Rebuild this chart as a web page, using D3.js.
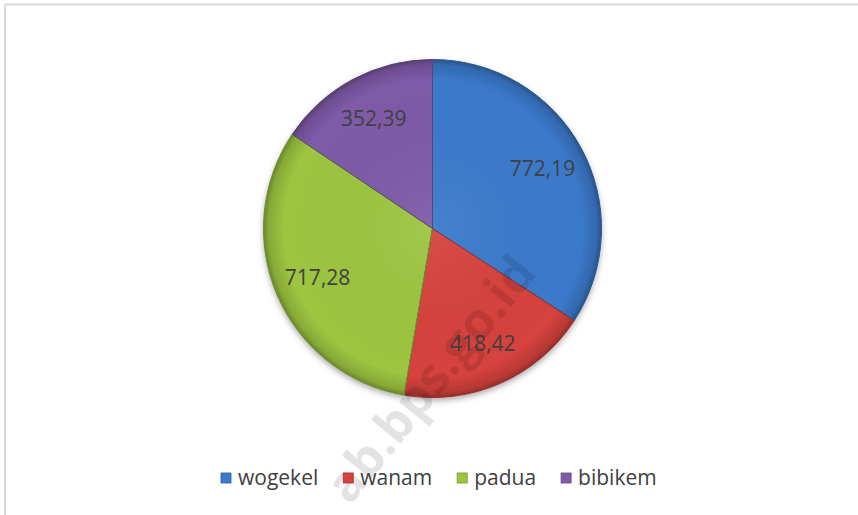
<!DOCTYPE html>
<html>
<head>
<meta charset="utf-8">
<script src="https://cdnjs.cloudflare.com/ajax/libs/d3/7.8.5/d3.min.js"></script>
<style>
  body { margin: 0; background: #fff; }
  svg { display: block; }
  text { font-family: "Open Sans", sans-serif; }
</style>
</head>
<body>
<div id="chart"></div>
<script>
// chart data
var categories = ["wogekel", "wanam", "padua", "bibikem"];
var values = [772.19, 418.42, 717.28, 352.39];
var labels = ["772,19", "418,42", "717,28", "352,39"];
var colors = ["#3b7acb", "#d6423e", "#9cc540", "#7f5aa8"];

var svgWidth = 858;
var svgHeight = 515;

var cx = 432.5, cy = 228.5, radius = 169;

var svg = d3.select("#chart")
  .append("svg")
  .attr("width", svgWidth)
  .attr("height", svgHeight);

var defs = svg.append("defs");

// soft shadow under the pie
var shadow = defs.append("filter")
  .attr("id", "shadow")
  .attr("x", "-20%").attr("y", "-20%")
  .attr("width", "140%").attr("height", "140%");
shadow.append("feDropShadow")
  .attr("dx", 0).attr("dy", 3)
  .attr("stdDeviation", 3)
  .attr("flood-color", "#000")
  .attr("flood-opacity", 0.35);

// darkening toward the rim (bevel look)
var rim = defs.append("radialGradient")
  .attr("id", "rim")
  .attr("gradientUnits", "userSpaceOnUse")
  .attr("cx", 0).attr("cy", 0).attr("r", radius);
rim.append("stop").attr("offset", "0%").attr("stop-color", "#fff").attr("stop-opacity", 0.06);
rim.append("stop").attr("offset", "88%").attr("stop-color", "#000").attr("stop-opacity", 0);
rim.append("stop").attr("offset", "97%").attr("stop-color", "#000").attr("stop-opacity", 0.14);
rim.append("stop").attr("offset", "100%").attr("stop-color", "#000").attr("stop-opacity", 0.32);

// frame lines (top and left only)
svg.append("line")
  .attr("x1", 5).attr("y1", 4.5).attr("x2", svgWidth).attr("y2", 4.5)
  .attr("stroke", "#d9d9d9").attr("stroke-width", 2);
svg.append("line")
  .attr("x1", 5).attr("y1", 4.5).attr("x2", 5).attr("y2", svgHeight)
  .attr("stroke", "#d9d9d9").attr("stroke-width", 2);

var pie = d3.pie().sort(null).value(function(d) { return d; });
var arcs = pie(values);

var arc = d3.arc().innerRadius(0).outerRadius(radius);
var labelArc = d3.arc().innerRadius(radius * 0.74).outerRadius(radius * 0.74);

var pieGroup = svg.append("g")
  .attr("transform", `translate(${cx}, ${cy})`);

var slices = pieGroup.append("g").attr("filter", "url(#shadow)");

slices.selectAll("path.slice")
  .data(arcs)
  .enter()
  .append("path")
  .attr("class", "slice")
  .attr("d", arc)
  .attr("fill", function(d, i) { return colors[i]; });

// rim shading over each slice
pieGroup.selectAll("path.rim")
  .data(arcs)
  .enter()
  .append("path")
  .attr("class", "rim")
  .attr("d", arc)
  .attr("fill", "url(#rim)")
  .attr("stroke", function(d, i) { return d3.color(colors[i]).darker(0.9); })
  .attr("stroke-width", 1);

// watermark
svg.append("text")
  .attr("transform", "translate(350, 506) rotate(-51)")
  .attr("font-family", "Liberation Sans, Arial, sans-serif")
  .attr("font-weight", "bold")
  .attr("font-size", 50)
  .attr("fill", "#000")
  .attr("fill-opacity", 0.11)
  .text("ab.bps.go.id");

// data labels
pieGroup.selectAll("text.value")
  .data(arcs)
  .enter()
  .append("text")
  .attr("class", "value")
  .attr("transform", function(d) { return `translate(${labelArc.centroid(d)})`; })
  .attr("dy", "0.36em")
  .attr("text-anchor", "middle")
  .attr("font-size", 21)
  .attr("fill", "#404040")
  .text(function(d, i) { return labels[i]; });

// legend
var legend = svg.append("g").attr("transform", "translate(221, 478)");
var lx = 0;
categories.forEach(function(name, i) {
  var item = legend.append("g").attr("transform", `translate(${lx}, 0)`);
  item.append("rect")
    .attr("x", 0).attr("y", -5)
    .attr("width", 10).attr("height", 10)
    .attr("fill", colors[i])
    .attr("stroke", d3.color(colors[i]).darker(0.8))
    .attr("stroke-width", 0.8);
  var t = item.append("text")
    .attr("x", 17)
    .attr("y", 7)
    .attr("font-size", 21)
    .attr("fill", "#404040")
    .text(name);
  lx += 17 + t.node().getComputedTextLength() + 25;
});
</script>
</body>
</html>
